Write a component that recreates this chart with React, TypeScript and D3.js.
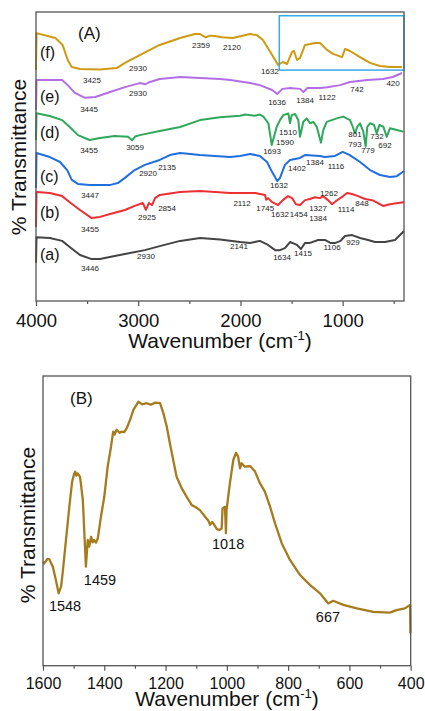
import React, { useEffect, useRef } from 'react';
import * as d3 from 'd3';

type Pt = [number, number];

interface PeakLabel {
    text: string;
    w: number;
    t: number;
}

const FONT = 'Arial, "Liberation Sans", Helvetica, sans-serif';
const WIDTH = 425;
const HEIGHT = 711;

// ---- panel (A): six stacked FTIR spectra, [wavenumber, %T (offset scale)] ----
const spectrumF: Pt[] = [
    [4000, 79.9], [3995, 92.7], [3810, 91.0], [3740, 88.6], [3690, 83.4], [3650, 81.0],
    [3570, 80.3], [3375, 80.1], [3210, 80.6], [3130, 82.4], [2985, 85.1], [2925, 86.2],
    [2790, 88.6], [2590, 91.0], [2445, 92.4], [2395, 92.4], [2366, 91.7], [2340, 91.2],
    [2300, 91.8], [2250, 91.7], [2180, 91.3], [2075, 91.0], [1905, 92.4], [1840, 92.0],
    [1780, 90.3], [1690, 85.1], [1632, 81.7], [1585, 82.7], [1545, 82.0], [1495, 86.2],
    [1476, 86.5], [1447, 83.4], [1417, 84.1], [1368, 88.6], [1320, 88.9], [1270, 89.3],
    [1222, 89.3], [1153, 86.9], [1094, 85.5], [1006, 84.4], [977, 87.2], [928, 86.5],
    [830, 84.4], [732, 82.4], [635, 81.3], [537, 81.0], [420, 81.0]
];

const spectrumE: Pt[] = [
    [4000, 66.1], [3995, 76.5], [3865, 76.5], [3745, 76.5], [3690, 74.7], [3620, 72.0],
    [3520, 70.3], [3420, 70.6], [3275, 72.3], [3130, 74.0], [2985, 75.4], [2930, 75.0],
    [2900, 75.6], [2790, 76.8], [2590, 77.5], [2395, 77.2], [2200, 76.8], [2100, 76.5],
    [1905, 75.4], [1810, 74.7], [1690, 73.0], [1640, 71.6], [1590, 73.4], [1510, 73.7],
    [1417, 73.4], [1384, 72.3], [1345, 73.7], [1220, 73.7], [1150, 74.0], [1025, 74.7],
    [928, 75.8], [760, 76.5], [605, 76.8], [510, 77.5], [420, 78.9]
];

const spectrumD: Pt[] = [
    [4000, 55.7], [3995, 65.0], [3865, 64.0], [3745, 62.6], [3670, 60.2], [3590, 57.4],
    [3475, 55.7], [3375, 56.4], [3230, 57.1], [3100, 56.8], [3060, 55.6], [3030, 56.9],
    [2985, 57.4], [2790, 58.8], [2590, 60.2], [2395, 62.6], [2200, 63.6], [2005, 64.1],
    [1955, 64.5], [1860, 64.1], [1810, 64.5], [1776, 63.8], [1727, 61.5], [1694, 54.0],
    [1672, 56.8], [1645, 60.3], [1613, 62.6], [1581, 64.3], [1532, 64.9], [1515, 61.5],
    [1499, 64.3], [1466, 64.7], [1434, 62.6], [1417, 56.8], [1385, 62.0], [1352, 63.2],
    [1319, 61.5], [1287, 62.0], [1254, 60.3], [1212, 54.8], [1189, 59.2], [1156, 62.0],
    [1107, 62.6], [1058, 63.2], [994, 63.8], [928, 62.6], [902, 60.3], [879, 58.0],
    [857, 60.3], [830, 61.5], [798, 58.6], [775, 53.4], [759, 60.3], [732, 61.5],
    [693, 60.9], [667, 58.0], [641, 60.9], [602, 60.3], [569, 56.8], [537, 59.8],
    [471, 59.2], [407, 58.6]
];

const spectrumC: Pt[] = [
    [4000, 39.1], [3995, 51.2], [3865, 49.8], [3765, 48.1], [3695, 45.3], [3650, 41.9],
    [3590, 40.5], [3475, 40.1], [3280, 40.1], [3200, 40.8], [3130, 42.6], [3035, 45.3],
    [2935, 47.1], [2790, 48.8], [2690, 50.5], [2590, 51.2], [2395, 50.5], [2250, 50.2],
    [2100, 49.8], [2005, 50.2], [1905, 50.9], [1810, 50.2], [1740, 48.1], [1690, 44.6],
    [1640, 41.5], [1613, 42.6], [1565, 47.1], [1515, 48.8], [1417, 49.5], [1370, 50.5],
    [1222, 50.2], [1175, 49.8], [1075, 50.2], [1000, 51.6], [930, 50.5], [830, 48.1],
    [732, 45.3], [635, 43.6], [537, 42.9], [470, 43.2], [400, 45.0]
];

const spectrumB: Pt[] = [
    [4000, 25.6], [3995, 37.7], [3865, 37.4], [3745, 36.3], [3670, 34.2], [3570, 31.5],
    [3455, 28.7], [3375, 29.1], [3275, 30.1], [3130, 31.5], [3035, 32.9], [2955, 33.9],
    [2925, 31.5], [2895, 33.9], [2865, 33.2], [2835, 35.6], [2790, 36.7], [2590, 37.7],
    [2395, 38.1], [2100, 37.4], [1855, 37.4], [1760, 36.7], [1748, 35.0], [1730, 35.6],
    [1690, 34.2], [1632, 33.2], [1585, 34.9], [1535, 36.3], [1495, 35.6], [1457, 33.5],
    [1417, 33.2], [1368, 34.9], [1320, 35.3], [1270, 35.9], [1222, 35.6], [1193, 36.3],
    [1143, 34.9], [1104, 33.5], [1065, 34.6], [996, 36.3], [957, 37.4], [908, 37.0],
    [850, 36.3], [780, 35.3], [712, 34.9], [654, 33.9], [605, 32.9], [537, 33.5],
    [459, 33.9], [400, 34.2]
];

const spectrumA: Pt[] = [
    [4000, 13.2], [3995, 22.1], [3865, 21.8], [3745, 20.8], [3670, 18.7], [3570, 15.9],
    [3455, 14.5], [3375, 14.5], [3230, 15.6], [3080, 16.6], [2935, 17.6], [2790, 19.0],
    [2590, 20.8], [2395, 21.8], [2200, 21.3], [2005, 20.4], [1905, 20.1], [1810, 20.8],
    [1730, 19.4], [1660, 17.6], [1613, 17.6], [1565, 18.3], [1515, 20.4], [1447, 19.4],
    [1408, 18.0], [1368, 20.1], [1320, 20.1], [1240, 21.1], [1170, 21.1], [1120, 20.1],
    [1070, 20.1], [1020, 20.8], [977, 22.5], [908, 22.8], [830, 21.8], [752, 21.1],
    [684, 20.4], [586, 20.4], [488, 21.1], [400, 24.2]
];

const peaksF: PeakLabel[] = [
    { text: '3425', w: 3452, t: 75.4 }, { text: '2930', w: 3002, t: 79.6 },
    { text: '2359', w: 2386, t: 87.5 }, { text: '2120', w: 2083, t: 86.9 },
    { text: '1632', w: 1711, t: 78.5 }
];
const peaksE: PeakLabel[] = [
    { text: '3445', w: 3481, t: 65.4 }, { text: '2930', w: 3002, t: 70.9 },
    { text: '1636', w: 1642, t: 67.8 }, { text: '1384', w: 1368, t: 68.5 },
    { text: '1122', w: 1153, t: 69.6 }, { text: '742', w: 860, t: 72.3 },
    { text: '420', w: 507, t: 74.4 }
];
const peaksD: PeakLabel[] = [
    { text: '3455', w: 3481, t: 51.2 }, { text: '3059', w: 3031, t: 52.2 },
    { text: '1510', w: 1535, t: 57.3 }, { text: '1590', w: 1564, t: 54.0 },
    { text: '1693', w: 1691, t: 50.9 }, { text: '801', w: 879, t: 56.6 },
    { text: '793', w: 879, t: 53.4 }, { text: '779', w: 752, t: 51.2 },
    { text: '732', w: 664, t: 55.9 }, { text: '692', w: 586, t: 53.1 }
];
const peaksC: PeakLabel[] = [
    { text: '3447', w: 3472, t: 35.6 }, { text: '2920', w: 2904, t: 43.3 },
    { text: '2135', w: 2718, t: 45.3 }, { text: '1632', w: 1623, t: 39.1 },
    { text: '1402', w: 1447, t: 45.0 }, { text: '1384', w: 1271, t: 47.1 },
    { text: '1116', w: 1065, t: 45.7 }
];
const peaksB: PeakLabel[] = [
    { text: '3455', w: 3472, t: 23.9 }, { text: '2925', w: 2914, t: 28.0 },
    { text: '2854', w: 2718, t: 31.1 }, { text: '2112', w: 1985, t: 32.9 },
    { text: '1745', w: 1758, t: 31.1 }, { text: '1632', w: 1613, t: 29.2 },
    { text: '1454', w: 1430, t: 29.2 }, { text: '1327', w: 1241, t: 31.3 },
    { text: '1384', w: 1241, t: 27.8 }, { text: '1262', w: 1134, t: 36.3 },
    { text: '1114', w: 967, t: 30.8 }, { text: '848', w: 811, t: 32.9 }
];
const peaksA: PeakLabel[] = [
    { text: '3446', w: 3472, t: 10.4 }, { text: '2930', w: 2924, t: 14.5 },
    { text: '2141', w: 2014, t: 18.0 }, { text: '1634', w: 1593, t: 14.2 },
    { text: '1415', w: 1388, t: 15.6 }, { text: '1106', w: 1104, t: 17.6 },
    { text: '929', w: 899, t: 19.4 }
];

const seriesNames = ['(a)', '(b)', '(c)', '(d)', '(e)', '(f)'];
const seriesColors = ['#444444', '#ec2f33', '#1f6fe0', '#2fa85c', '#b36ee6', '#cf9a12'];
const seriesData = [spectrumA, spectrumB, spectrumC, spectrumD, spectrumE, spectrumF];
const seriesPeaks = [peaksA, peaksB, peaksC, peaksD, peaksE, peaksF];
// %T level where each series tag "(x)" sits
const seriesTagLevel = [14.2, 28.7, 41.2, 56.4, 68.9, 84.1];

const majorTicksA = [4000, 3000, 2000, 1000];
const minorTicksA = [3500, 2500, 1500, 500];
// zoomed window marked on spectrum (f)
const zoomBox = { w0: 1620, w1: 400, t0: 79.9, t1: 98.7 };

// ---- panel (B): zoom of spectrum (f), 1600-400 cm-1 ----
const spectrumZoom: Pt[] = [
    [1600, 35.9], [1596, 35.3], [1585, 36.9], [1579, 36.7], [1574, 35.4], [1568, 34.2],
    [1558, 29.6], [1549, 25.0], [1545, 26.2], [1541, 27.3], [1536, 31.9], [1525, 43.4],
    [1514, 54.9], [1505, 63.5], [1499, 66.0], [1495, 67.0], [1491, 65.6], [1487, 66.4],
    [1479, 65.2], [1470, 57.2], [1465, 45.7], [1460, 34.2], [1454, 43.4], [1449, 41.1],
    [1443, 44.5], [1438, 42.6], [1433, 43.4], [1427, 42.5], [1421, 44.0], [1411, 51.4],
    [1400, 58.3], [1389, 68.7], [1378, 75.6], [1371, 80.8], [1366, 79.8], [1360, 81.4],
    [1350, 80.4], [1343, 80.8], [1335, 80.6], [1327, 81.9], [1316, 84.8], [1305, 88.3],
    [1289, 91.1], [1276, 90.2], [1262, 90.6], [1248, 90.1], [1234, 90.8], [1218, 90.6],
    [1207, 87.1], [1196, 82.5], [1186, 76.8], [1175, 71.0], [1164, 65.2], [1147, 61.2],
    [1131, 58.3], [1115, 55.5], [1100, 54.6], [1088, 53.7], [1071, 51.4], [1060, 50.0],
    [1055, 48.6], [1048, 49.6], [1041, 48.6], [1033, 47.2], [1025, 46.8], [1017, 47.4],
    [1014, 54.3], [1006, 54.9], [1003, 45.7], [1001, 53.7], [990, 63.0], [979, 71.0],
    [970, 73.5], [963, 72.1], [957, 68.1], [952, 69.9], [941, 68.7], [924, 68.9],
    [908, 67.0], [892, 63.0], [876, 60.1], [859, 54.9], [843, 49.2], [821, 42.3],
    [794, 36.5], [761, 31.3], [729, 27.9], [696, 25.0], [669, 21.5], [653, 22.4],
    [620, 21.0], [576, 19.8], [522, 18.6], [468, 18.3], [446, 19.2], [419, 19.8],
    [402, 21.0], [401, 11.2]
];

const peaksZoom: PeakLabel[] = [
    { text: '1548', w: 1528, t: 18.9 }, { text: '1459', w: 1414, t: 27.9 },
    { text: '1018', w: 996, t: 40.3 }, { text: '667', w: 670, t: 15.1 }
];

const majorTicksB = [1600, 1400, 1200, 1000, 800, 600, 400];
const minorTicksB = [1500, 1300, 1100, 900, 700, 500];

const App: React.FC = () => {
    const svgRef = useRef<SVGSVGElement>(null);

    useEffect(() => {
        if (!svgRef.current) return;
        const svg = d3.select(svgRef.current);
        svg.selectAll('*').remove();

        svg.append('rect').attr('width', WIDTH).attr('height', HEIGHT).attr('fill', '#fff');

        const drawBottomAxis = (
            x: d3.ScaleLinear<number, number>,
            yPos: number,
            major: number[],
            minor: number[],
            fontSize: number,
            labelY: number
        ) => {
            const g = svg.append('g')
                .attr('transform', `translate(0,${yPos})`)
                .call(d3.axisBottom(x).tickValues(major).tickSize(5).tickSizeOuter(0).tickFormat(d3.format('d')))
                .attr('font-family', FONT)
                .attr('font-size', fontSize);
            g.select('.domain').remove();
            g.selectAll('line').attr('stroke', '#555').attr('stroke-width', 1.2);
            g.selectAll('text').attr('y', labelY).attr('dy', null).attr('fill', '#111');

            const gm = svg.append('g')
                .attr('transform', `translate(0,${yPos})`)
                .call(d3.axisBottom(x).tickValues(minor).tickSize(3).tickSizeOuter(0).tickFormat(() => ''));
            gm.select('.domain').remove();
            gm.selectAll('line').attr('stroke', '#555').attr('stroke-width', 1.2);
        };

        const drawTitles = (cx: number, baseline: number, yx: number, cy: number) => {
            const t = svg.append('text')
                .attr('x', cx).attr('y', baseline)
                .attr('text-anchor', 'middle')
                .attr('font-family', FONT).attr('font-size', 21).attr('fill', '#111');
            t.append('tspan').text('Wavenumber (cm');
            t.append('tspan').attr('dy', -8).attr('font-size', 13).text('-1');
            t.append('tspan').attr('dy', 8).text(')');

            svg.append('text')
                .attr('transform', `translate(${yx},${cy}) rotate(-90)`)
                .attr('text-anchor', 'middle')
                .attr('font-family', FONT).attr('font-size', 21).attr('fill', '#111')
                .text('% Transmittance');
        };

        // ---------- panel A ----------
        const xA = d3.scaleLinear().domain([4000, 400]).range([36, 404]);
        const yA = d3.scaleLinear().domain([0, 100]).range([301, 12]);
        const lineA = d3.line<Pt>().x(d => xA(d[0])).y(d => yA(d[1]));

        seriesData.forEach((data, i) => {
            svg.append('path')
                .datum(data)
                .attr('d', lineA)
                .attr('fill', 'none')
                .attr('stroke', seriesColors[i])
                .attr('stroke-width', 2)
                .attr('stroke-linejoin', 'round');

            svg.append('g')
                .selectAll('text')
                .data(seriesPeaks[i])
                .enter()
                .append('text')
                .attr('x', d => xA(d.w))
                .attr('y', d => yA(d.t))
                .attr('text-anchor', 'middle')
                .attr('font-family', FONT)
                .attr('font-size', 8)
                .attr('fill', '#222')
                .text(d => d.text);

            svg.append('text')
                .attr('x', 40)
                .attr('y', yA(seriesTagLevel[i]))
                .attr('font-family', FONT)
                .attr('font-size', 16)
                .attr('fill', '#111')
                .text(seriesNames[i]);
        });

        svg.append('rect')
            .attr('x', xA(zoomBox.w0))
            .attr('y', yA(zoomBox.t1))
            .attr('width', xA(zoomBox.w1) - xA(zoomBox.w0))
            .attr('height', yA(zoomBox.t0) - yA(zoomBox.t1))
            .attr('fill', 'none')
            .attr('stroke', '#3aa9ea')
            .attr('stroke-width', 1.5);

        svg.append('text')
            .attr('x', 78).attr('y', 39)
            .attr('font-family', FONT).attr('font-size', 17).attr('fill', '#111')
            .text('(A)');

        svg.append('rect')
            .attr('x', 36).attr('y', 12).attr('width', 368).attr('height', 289)
            .attr('fill', 'none').attr('stroke', '#555').attr('stroke-width', 1.3);

        drawBottomAxis(xA, 301, majorTicksA, minorTicksA, 18.5, 26);
        drawTitles(220, 348, 26, 157);

        // ---------- panel B ----------
        const xB = d3.scaleLinear().domain([1600, 400]).range([43, 410.7]);
        const yB = d3.scaleLinear().domain([0, 100]).range([665.7, 376]);
        const lineB = d3.line<Pt>().x(d => xB(d[0])).y(d => yB(d[1]));

        svg.append('path')
            .datum(spectrumZoom)
            .attr('d', lineB)
            .attr('fill', 'none')
            .attr('stroke', '#a67b1d')
            .attr('stroke-width', 2.3)
            .attr('stroke-linejoin', 'round');

        svg.append('g')
            .selectAll('text')
            .data(peaksZoom)
            .enter()
            .append('text')
            .attr('x', d => xB(d.w))
            .attr('y', d => yB(d.t))
            .attr('text-anchor', 'middle')
            .attr('font-family', FONT)
            .attr('font-size', 14.5)
            .attr('fill', '#111')
            .text(d => d.text);

        svg.append('text')
            .attr('x', 70).attr('y', 404)
            .attr('font-family', FONT).attr('font-size', 17).attr('fill', '#111')
            .text('(B)');

        svg.append('rect')
            .attr('x', 43).attr('y', 376).attr('width', 367.7).attr('height', 289.7)
            .attr('fill', 'none').attr('stroke', '#555').attr('stroke-width', 1.3);

        drawBottomAxis(xB, 665.7, majorTicksB, minorTicksB, 16, 23.5);
        drawTitles(227, 706, 35, 525);
    }, []);

    return (
        <svg
            ref={svgRef}
            width={WIDTH}
            height={HEIGHT}
            style={{ position: 'absolute', left: 0, top: 0 }}
        />
    );
};

export default App;
